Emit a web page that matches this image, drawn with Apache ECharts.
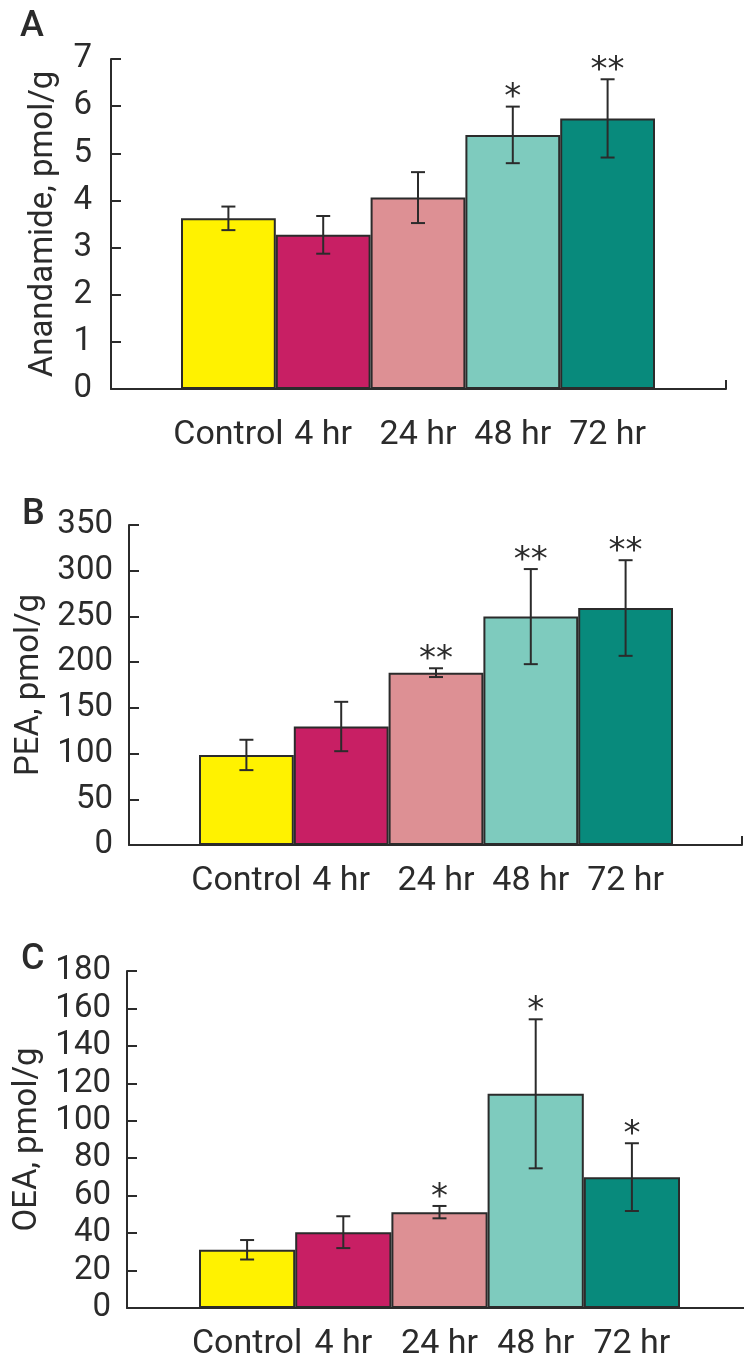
<!DOCTYPE html>
<html>
<head>
<meta charset="utf-8">
<script src="https://cdn.jsdelivr.net/npm/echarts@6/dist/echarts.min.js"></script>
<style>
html, body { margin: 0; padding: 0; background: #fff; }
#main { width: 744px; height: 1361px; }
</style>
</head>
<body>
<div id="main"></div>
<script>
// data
const categories = ['Control', '4 hr', '24 hr', '48 hr', '72 hr'];

const anandamideMean = [3.62, 3.27, 4.06, 5.39, 5.74];
const anandamideErr = [0.25, 0.40, 0.54, 0.60, 0.83];
const anandamideStars = ['', '', '', '*', '**'];

const peaMean = [98.5, 129.6, 188.5, 249.8, 259.2];
const peaErr = [16.6, 27, 4.8, 52, 52.3];
const peaStars = ['', '', '**', '**', '**'];

const oeaMean = [31.1, 40.5, 51.2, 114.4, 69.9];
const oeaErr = [5.2, 8.5, 3.3, 39.8, 18.1];
const oeaStars = ['', '', '*', '*', '*'];

const barColors = ['#fff200', '#c81f64', '#dd9094', '#7ecbbe', '#088a7c'];
const ink = '#2b2b2b';
const font = 'Roboto, "Noto Sans", sans-serif';

// layout of the three panels, in px
const panels = [
    { letter: 'A', name: 'Anandamide, pmol/g', mean: anandamideMean, err: anandamideErr, stars: anandamideStars,
      max: 7, interval: 1, top: 59, bottom: 972, axisLeft: 111, axisRight: 18, barLeft: 181, barRight: 89,
      nameGap: 51, labelMargin: 19, catMargin: 29, letterLeft: 20, letterTop: 9 },
    { letter: 'B', name: 'PEA, pmol/g', mean: peaMean, err: peaErr, stars: peaStars,
      max: 350, interval: 50, top: 525, bottom: 516, axisLeft: 129, axisRight: 2, barLeft: 199, barRight: 71,
      nameGap: 78, labelMargin: 16, catMargin: 19, letterLeft: 22, letterTop: 497 },
    { letter: 'C', name: 'OEA, pmol/g', mean: oeaMean, err: oeaErr, stars: oeaStars,
      max: 180, interval: 20, top: 971, bottom: 53, axisLeft: 127, axisRight: -4, barLeft: 199, barRight: 64,
      nameGap: 78, labelMargin: 16, catMargin: 19, letterLeft: 21, letterTop: 942 }
];

const chartDom = document.getElementById('main');
const myChart = echarts.init(chartDom, null, { renderer: 'canvas' });

let grid = [];
let xAxis = [];
let yAxis = [];
let series = [];
let title = [];

panels.forEach((p, i) => {
    const frame = 2 * i;
    const inner = 2 * i + 1;

    title.push({
        text: p.letter,
        left: p.letterLeft,
        top: p.letterTop,
        padding: 0,
        textStyle: { fontFamily: font, fontSize: 36, fontWeight: 500, color: ink }
    });

    // frame grid: carries the visible axes
    grid.push({ left: p.axisLeft, right: p.axisRight, top: p.top, bottom: p.bottom, outerBoundsMode: 'none' });
    // bar grid: only the span the bars occupy
    grid.push({ left: p.barLeft, right: p.barRight, top: p.top, bottom: p.bottom, outerBoundsMode: 'none' });

    xAxis.push({
        type: 'value',
        gridIndex: frame,
        min: 0,
        max: 1,
        interval: 1,
        axisLine: { show: true, lineStyle: { color: ink, width: 2 } },
        axisTick: { show: true, inside: true, length: 9, lineStyle: { color: ink, width: 2 } },
        axisLabel: { show: false },
        splitLine: { show: false }
    });
    xAxis.push({
        type: 'category',
        gridIndex: inner,
        data: categories,
        axisLine: { show: false },
        axisTick: { show: false },
        axisLabel: { color: ink, fontFamily: font, fontSize: 34, margin: p.catMargin, interval: 0 },
        splitLine: { show: false }
    });

    yAxis.push({
        type: 'value',
        gridIndex: frame,
        min: 0,
        max: p.max,
        interval: p.interval,
        name: p.name,
        nameLocation: 'middle',
        nameGap: p.nameGap,
        nameTextStyle: { color: ink, fontFamily: font, fontSize: 33 },
        axisLine: { show: true, lineStyle: { color: ink, width: 2 } },
        axisTick: { show: true, inside: true, length: 10, lineStyle: { color: ink, width: 2 } },
        axisLabel: { color: ink, fontFamily: font, fontSize: 33, margin: p.labelMargin },
        splitLine: { show: false }
    });
    yAxis.push({
        type: 'value',
        gridIndex: inner,
        min: 0,
        max: p.max,
        show: false,
        splitLine: { show: false }
    });

    series.push({
        type: 'bar',
        xAxisIndex: inner,
        yAxisIndex: inner,
        barCategoryGap: '0%',
        itemStyle: { borderColor: ink, borderWidth: 2 },
        data: p.mean.map((v, j) => ({ value: v, itemStyle: { color: barColors[j] } })),
        z: 2
    });

    // error bars + significance stars
    series.push({
        type: 'custom',
        xAxisIndex: inner,
        yAxisIndex: inner,
        z: 3,
        clip: false,
        data: p.mean.map((v, j) => [j, v, p.err[j]]),
        renderItem: function (params, api) {
            const x = api.value(0);
            const m = api.value(1);
            const e = api.value(2);
            const hi = api.coord([x, m + e]);
            const lo = api.coord([x, m - e]);
            const hw = 7;
            const style = { stroke: ink, lineWidth: 2 };
            const children = [
                { type: 'line', shape: { x1: hi[0], y1: hi[1], x2: lo[0], y2: lo[1] }, style: style },
                { type: 'line', shape: { x1: hi[0] - hw, y1: hi[1], x2: hi[0] + hw, y2: hi[1] }, style: style },
                { type: 'line', shape: { x1: lo[0] - hw, y1: lo[1], x2: lo[0] + hw, y2: lo[1] }, style: style }
            ];
            const star = p.stars[params.dataIndex];
            if (star) {
                children.push({
                    type: 'text',
                    x: hi[0],
                    y: hi[1] - 8,
                    style: {
                        text: star,
                        fill: ink,
                        font: '34px "DejaVu Sans", sans-serif',
                        align: 'center',
                        verticalAlign: 'middle'
                    }
                });
            }
            return { type: 'group', children: children };
        }
    });
});

const option = {
    backgroundColor: '#fff',
    animation: false,
    title: title,
    grid: grid,
    xAxis: xAxis,
    yAxis: yAxis,
    tooltip: { show: false },
    series: series
};

myChart.setOption(option);
</script>
</body>
</html>
